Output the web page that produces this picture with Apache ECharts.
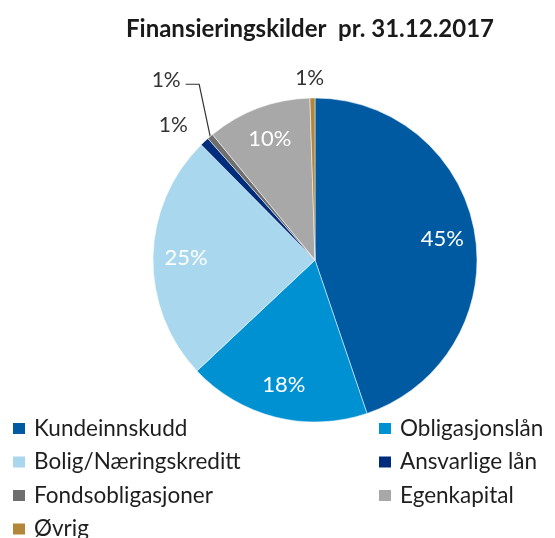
<!DOCTYPE html>
<html>
<head>
<meta charset="utf-8">
<script src="https://cdn.jsdelivr.net/npm/echarts@6/dist/echarts.min.js"></script>
<style>
html,body{margin:0;padding:0;background:#fff;}
#chart{width:555px;height:538px;}
</style>
</head>
<body>
<div id="chart"></div>
<script>
// ---- data ----
var categories = ['Kundeinnskudd', 'Obligasjonslån', 'Bolig/Næringskreditt', 'Ansvarlige lån', 'Fondsobligasjoner', 'Egenkapital', 'Øvrig'];
var values = [44.8, 18.2, 24.6, 0.9, 0.6, 10.4, 0.5];
var colors = ['#005AA2', '#0091D3', '#A9D7EE', '#002C7C', '#6E6E6E', '#A8A8A8', '#B2873A'];
var legendLeft = ['Kundeinnskudd', 'Bolig/Næringskreditt', 'Fondsobligasjoner', 'Øvrig'];
var legendRight = ['Obligasjonslån', 'Ansvarlige lån', 'Egenkapital'];
var titleText = 'Finansieringskilder  pr. 31.12.2017';

var FONT = 'Lato, "Open Sans", sans-serif';
var small = { 'Ansvarlige lån': {length: 23, length2: 0, show: false, dist: 1},
              'Fondsobligasjoner': {length: 58, length2: 2, show: true, dist: 4},
              'Øvrig': {length: 20, length2: 0, show: false, dist: -12} };

var pct = function (p) { return Math.round(p.percent) + '%'; };

var mainData = categories.map(function (c, i) {
  var d = { name: c, value: values[i], itemStyle: { color: colors[i] } };
  if (small[c]) {
    d.label = { show: true, position: 'outside', color: '#333333', fontSize: 21, fontFamily: FONT, distanceToLabelLine: small[c].dist };
    d.labelLine = { show: small[c].show, length: small[c].length, length2: small[c].length2, smooth: false,
                    lineStyle: { color: '#333333', width: 1.2 } };
  } else {
    d.label = { show: false };
    d.labelLine = { show: false };
  }
  return d;
});

var ringData = categories.map(function (c, i) {
  return { name: c, value: values[i], label: { show: !small[c] } };
});

var legendBase = {
  orient: 'vertical',
  icon: 'rect',
  itemWidth: 14,
  itemHeight: 13,
  itemGap: 10.5,
  height: 200,
  textStyle: { fontFamily: FONT, fontSize: 22.5, color: '#1e1e1e', lineHeight: 21, padding: [0, 0, 0, 3] },
  selectedMode: false
};

var chart = echarts.init(document.getElementById('chart'), null, { renderer: 'canvas' });
chart.setOption({
  animation: false,
  title: {
    text: titleText,
    left: 305, textAlign: 'center',
    top: 12,
    textStyle: { fontFamily: FONT, fontSize: 24, fontWeight: 'bold', color: '#1a1a1a' }
  },
  legend: [
    Object.assign({}, legendBase, { data: legendLeft, left: 6, top: 412 }),
    Object.assign({}, legendBase, { data: legendRight, left: 372, top: 412 })
  ],
  series: [
    {
      type: 'pie',
      center: [315, 260],
      radius: [0, 162],
      startAngle: 90,
      clockwise: true,
      avoidLabelOverlap: false,
      itemStyle: { borderColor: '#ffffff', borderWidth: 0.5 },
      label: { formatter: pct },
      emphasis: { disabled: true },
      labelLayout: function (p) {
        if (p.dataIndex === 4 && p.labelLinePoints) {
          var s = p.labelLinePoints[0];
          var r = p.labelRect;
          var ny = r.y + r.height / 2 - 12;
          var nx = r.x + 14;
          var knee = [s[0] - 11, ny + 4];
          return { x: nx + r.width, y: ny, align: 'right', verticalAlign: 'middle',
                   labelLinePoints: [s, knee, [nx + r.width + 5, ny + 4]] };
        }
        return {};
      },
      data: mainData
    },
    {
      type: 'pie',
      center: [315, 260],
      radius: [90, 162],
      startAngle: 90,
      clockwise: true,
      silent: true,
      itemStyle: { color: 'rgba(0,0,0,0)' },
      label: { position: 'inside', formatter: pct, color: '#ffffff', fontSize: 22, fontFamily: FONT },
      labelLine: { show: false },
      emphasis: { disabled: true },
      data: ringData
    }
  ]
});
</script>
</body>
</html>
